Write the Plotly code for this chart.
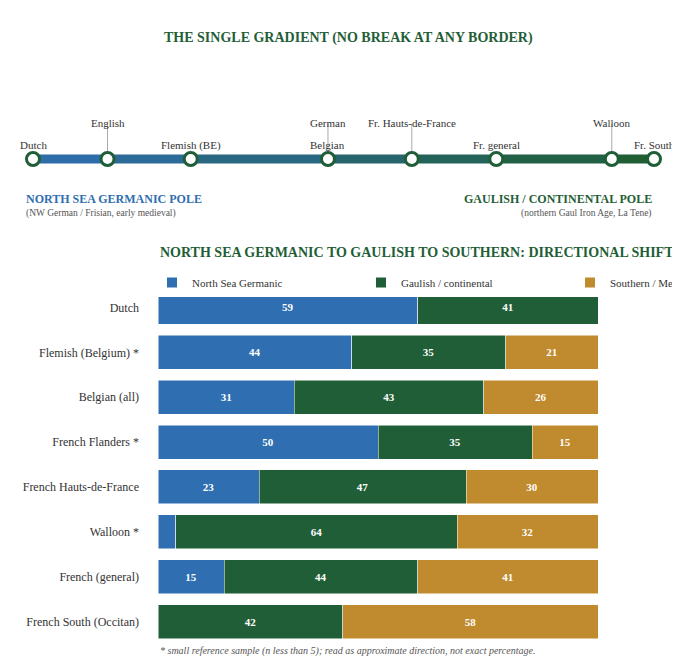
import plotly.graph_objects as go

# top gradient scale
node_names = ["Dutch", "English", "Flemish (BE)", "German", "Belgian", "Fr. Hauts-de-France",
              "Fr. general", "Walloon", "Fr. South"]
node_pos = [0, 12, 25.4, 47.5, 47.5, 61, 74.6, 93.2, 100]
node_high = [False, True, False, True, False, True, False, True, False]

# bars
groups = ["Dutch", "Flemish (Belgium) *", "Belgian (all)", "French Flanders *",
          "French Hauts-de-France", "Walloon *", "French (general)", "French South (Occitan)"]
north_sea = [59, 44, 31, 50, 23, 4, 15, 0]
gaulish = [41, 35, 43, 35, 47, 64, 44, 42]
southern = [0, 21, 26, 15, 30, 32, 41, 58]

BLUE = "#2F6EB0"
GREEN = "#1F5E36"
GOLD = "#C08A2E"
SERIF = "Liberation Serif"

W, H = 680, 657
def py(p):
    return 1 - p / H

fig = go.Figure()

def mix(t):
    a = (0x2F, 0x6E, 0xB0); b = (0x1F, 0x5E, 0x30)
    return "rgb(%d,%d,%d)" % tuple(round(a[i] + (b[i] - a[i]) * t) for i in range(3))

pts = sorted(set(node_pos))
for i in range(len(pts) - 1):
    fig.add_trace(go.Scatter(x=[pts[i], pts[i + 1]], y=[0, 0], mode="lines",
                             line=dict(color=mix((pts[i] + pts[i + 1]) / 200), width=9),
                             xaxis="x2", yaxis="y2", showlegend=False, hoverinfo="skip"))
fig.add_trace(go.Scatter(x=pts, y=[0] * len(pts), mode="markers",
                         marker=dict(size=13, color="white", line=dict(color=GREEN, width=3)),
                         xaxis="x2", yaxis="y2", showlegend=False, cliponaxis=False))

for name, p, high in zip(node_names, node_pos, node_high):
    yy = 107 if high else 129
    fig.add_annotation(x=p, y=py(yy), xref="x2", yref="paper", text=name, showarrow=False,
                       font=dict(family=SERIF, size=11, color="#333"))
    if high:
        fig.add_shape(type="line", x0=p, x1=p, y0=py(116), y1=py(146), xref="x2", yref="paper",
                      line=dict(color="#aaa", width=1), layer="below")

for series, vals, col in [("North Sea Germanic", north_sea, BLUE),
                          ("Gaulish / continental", gaulish, GREEN),
                          ("Southern / Mediterranean", southern, GOLD)]:
    fig.add_trace(go.Bar(y=groups, x=vals, orientation="h", name=series, marker_color=col,
                         marker_line=dict(color="white", width=0.5),
                         text=[str(v) if v >= 10 else "" for v in vals], textposition="inside",
                         insidetextanchor="middle",
                         textfont=dict(family=SERIF, size=11, color="white", weight="bold")))

fig.update_layout(
    width=W, height=H, margin=dict(l=0, r=0, t=0, b=0, autoexpand=False),
    paper_bgcolor="white", plot_bgcolor="white", barmode="stack", bargap=0.24,
    font=dict(family=SERIF, color="#333"),
    xaxis=dict(domain=[150 / W, 590 / W], range=[0, 100], visible=False),
    yaxis=dict(domain=[py(636), py(277)], autorange="reversed", showgrid=False, automargin=False,
               tickfont=dict(size=12, color="#333"), ticklabelstandoff=18),
    xaxis2=dict(domain=[25 / W, 646 / W], range=[0, 100], visible=False, anchor="y2"),
    yaxis2=dict(domain=[py(162), py(140)], range=[-1, 1], visible=False, anchor="x2"),
    legend=dict(orientation="h", x=144 / W, y=py(260), xanchor="left", yanchor="top",
                entrywidth=164, font=dict(size=11), itemsizing="constant", traceorder="normal"),
)

fig.add_annotation(x=0.5, y=py(20), xref="paper", yref="paper", showarrow=False,
                   text="<b>THE SINGLE GRADIENT (NO BREAK AT ANY BORDER)</b>",
                   font=dict(size=14, color=GREEN))
fig.add_annotation(x=150 / W, y=py(244), xref="paper", yref="paper", showarrow=False, xanchor="left",
                   text="<b>NORTH SEA GERMANIC TO GAULISH TO SOUTHERN: DIRECTIONAL SHIFT</b>",
                   font=dict(size=14, color=GREEN))
fig.add_annotation(x=16 / W, y=py(182), xref="paper", yref="paper", showarrow=False, xanchor="left",
                   text="<b>NORTH SEA GERMANIC POLE</b>", font=dict(size=12, color=BLUE))
fig.add_annotation(x=16 / W, y=py(198), xref="paper", yref="paper", showarrow=False, xanchor="left",
                   text="(NW German / Frisian, early medieval)", font=dict(size=9.5, color="#555"))
fig.add_annotation(x=646 / W, y=py(182), xref="paper", yref="paper", showarrow=False, xanchor="right",
                   text="<b>GAULISH / CONTINENTAL POLE</b>", font=dict(size=12, color=GREEN))
fig.add_annotation(x=646 / W, y=py(198), xref="paper", yref="paper", showarrow=False, xanchor="right",
                   text="(northern Gaul Iron Age, La Tene)", font=dict(size=9.5, color="#555"))
fig.add_annotation(x=150 / W, y=py(651), xref="paper", yref="paper", showarrow=False, xanchor="left",
                   text="<i>* small reference sample (n less than 5); read as approximate direction, not exact percentage.</i>",
                   font=dict(size=10, color="#555"))

fig.write_html("out.html")
